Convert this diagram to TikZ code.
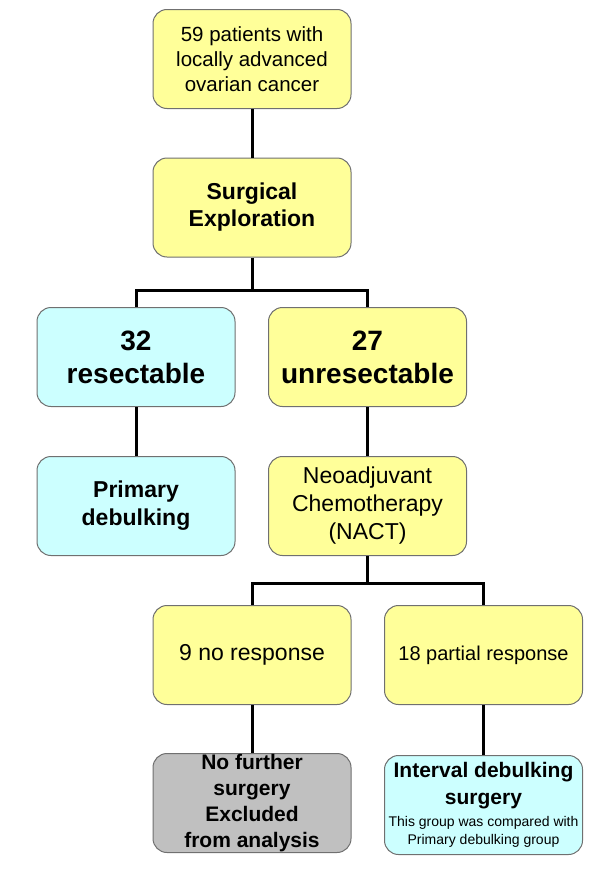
\documentclass[tikz,border=0pt]{standalone}
\usepackage{fontspec}
\setmainfont{Liberation Sans}
\definecolor{boxyellow}{HTML}{FFFF99}
\definecolor{boxcyan}{HTML}{CCFFFF}
\definecolor{boxgray}{HTML}{C0C0C0}
\definecolor{boxedge}{HTML}{707070}
\newcommand{\fs}[2]{\fontsize{#1}{#2}\selectfont}
\begin{document}
\begin{tikzpicture}[x=1pt,y=-1pt,
  box/.style={draw=boxedge,line width=1pt,rounded corners=14pt,
    minimum width=198pt,minimum height=99pt,align=center,inner sep=0pt,text=black},
  ybox/.style={box,fill=boxyellow},
  cbox/.style={box,fill=boxcyan},
  gbox/.style={box,fill=boxgray},
  conn/.style={line width=3pt,black}]
\useasboundingbox (0,0) rectangle (600,878);
\fill[white] (0,0) rectangle (600,878);

\node[ybox,font=\fs{20.5}{25}] (top) at (252,59) {59 patients with\\locally advanced\\ovarian cancer};
\node[ybox,font=\fs{23}{27}\bfseries] (surg) at (252,207.5) {Surgical\\Exploration};
\node[cbox,font=\fs{28}{33}\bfseries] (res) at (136,357) {32\\resectable};
\node[ybox,font=\fs{28}{33}\bfseries] (unres) at (367.5,357) {27\\unresectable};
\node[cbox,font=\fs{23}{28}\bfseries] (prim) at (136,506) {Primary\\debulking};
\node[ybox,font=\fs{23}{28}] (nact) at (367.5,506) {Neoadjuvant\\Chemotherapy\\(NACT)};
\node[ybox,font=\fs{23}{27}] (nores) at (252,655) {9 no response};
\node[ybox,font=\fs{20}{24}] (part) at (483.5,655) {18 partial response};
\node[gbox,font=\fs{21}{26}\bfseries] (nofur) at (252,803) {No further\\surgery\\Excluded\\from analysis};
\node[cbox,font=\fs{21}{26.5}\bfseries] (intv) at (483.5,805) {Interval debulking\\surgery\\[-4pt]{\fs{14}{17}\mdseries This group was compared with}\\[-9pt]{\fs{14}{17}\mdseries Primary debulking group}};

\coordinate (j1) at (252,290);
\coordinate (j2) at (367.5,583);

\draw[conn] (top) -- (surg);
\draw[conn] (surg) -- (j1);
\draw[conn] (j1) -| (res);
\draw[conn] (j1) -| (unres);
\draw[conn] (res) -- (prim);
\draw[conn] (unres) -- (nact);
\draw[conn] (nact) -- (j2);
\draw[conn] (j2) -| (nores);
\draw[conn] (j2) -| (part);
\draw[conn] (nores) -- (nofur);
\draw[conn] (part) -- (intv);
\end{tikzpicture}
\end{document}
